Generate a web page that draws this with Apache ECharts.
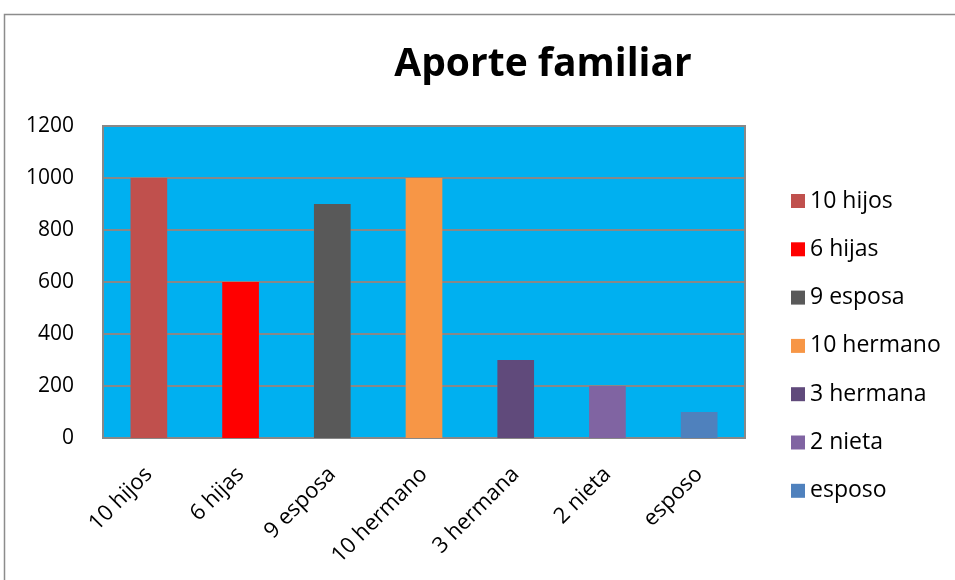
<!DOCTYPE html>
<html>
<head>
<meta charset="utf-8">
<script src="https://cdn.jsdelivr.net/npm/echarts@6/dist/echarts.min.js"></script>
<style>
html, body { margin: 0; padding: 0; background: #fff; }
#chart { width: 955px; height: 580px; }
</style>
</head>
<body>
<div id="chart"></div>
<script>
var categories = ['10 hijos', '6 hijas', '9 esposa', '10 hermano', '3 hermana', '2 nieta', 'esposo'];
var values = [1000, 600, 900, 1000, 300, 200, 100];
var colors = ['#C0504D', '#FF0000', '#595959', '#F79646', '#604A7B', '#8064A2', '#4F81BD'];
var yTicks = [0, 200, 400, 600, 800, 1000, 1200];

var font = '"Open Sans", "Noto Sans", sans-serif';

// one series per category so the legend lists them all
var series = categories.map(function (name, i) {
    var data = categories.map(function (c, j) { return j === i ? values[i] : '-'; });
    return {
        name: name,
        type: 'bar',
        stack: 'all',
        barWidth: '40%',
        itemStyle: { color: colors[i] },
        data: data
    };
});

var chart = echarts.init(document.getElementById('chart'));
chart.setOption({
    animation: false,
    graphic: [{
        type: 'rect',
        shape: { x: 4.5, y: 14.5, width: 960, height: 600 },
        style: { fill: 'none', stroke: '#8c8c8c', lineWidth: 1.5 },
        z: -1
    }],
    title: {
        text: 'Aporte familiar',
        left: 538,
        textAlign: 'center',
        top: 40,
        textStyle: { fontFamily: font, fontWeight: 'bold', fontSize: 39, color: '#000' }
    },
    legend: {
        orient: 'vertical',
        left: 786,
        top: 182,
        itemWidth: 14,
        itemHeight: 14,
        itemGap: 20.3,
        icon: 'rect',
        textStyle: { fontFamily: font, fontSize: 23, color: '#000', lineHeight: 28, height: 28 },
        data: categories
    },
    grid: {
        left: 103,
        top: 126,
        width: 642,
        height: 312,
        show: true,
        backgroundColor: '#00B0F0',
        borderColor: '#888',
        borderWidth: 2
    },
    xAxis: {
        type: 'category',
        data: categories,
        axisLine: { lineStyle: { color: '#888', width: 2 } },
        axisTick: { show: false },
        axisLabel: { rotate: 45, fontFamily: font, fontSize: 22, color: '#000', margin: 33, interval: 0 }
    },
    yAxis: {
        type: 'value',
        min: yTicks[0],
        max: yTicks[yTicks.length - 1],
        interval: 200,
        axisLine: { show: false },
        axisTick: { show: false },
        splitLine: { lineStyle: { color: '#888', width: 2 } },
        axisLabel: {
            fontFamily: font, fontSize: 21, color: '#000', margin: 29,
            formatter: function (v) { return String(v); }
        }
    },
    series: series
});
</script>
</body>
</html>
